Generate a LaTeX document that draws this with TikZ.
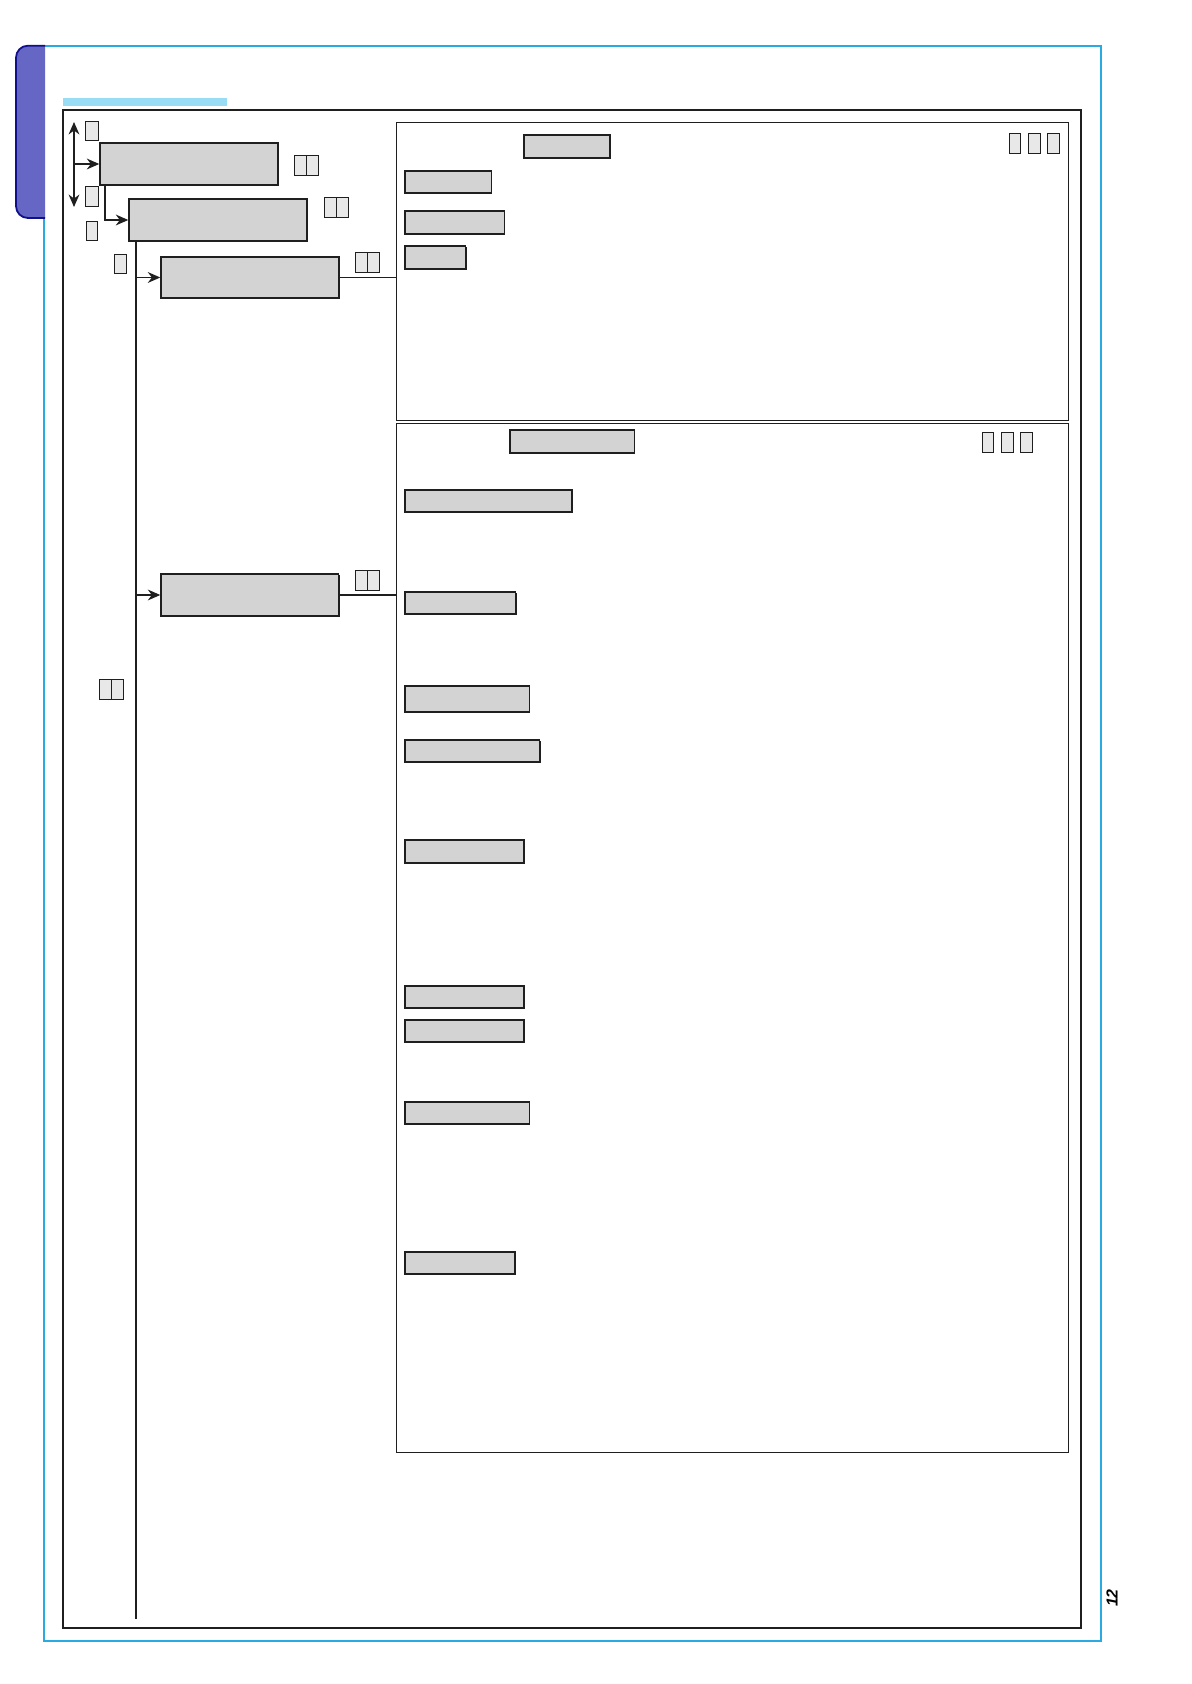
\documentclass[tikz,border=0pt]{standalone}
\usepackage{fontspec}
\setsansfont{Liberation Sans}
\usetikzlibrary{arrows.meta,calc,fit,shadows}

\definecolor{frameblue}{RGB}{41,170,225}
\definecolor{tabfill}{RGB}{102,102,196}
\definecolor{tabline}{RGB}{16,16,140}
\definecolor{barblue}{RGB}{153,221,245}
\definecolor{boxgray}{RGB}{211,211,211}
\definecolor{cellgray}{RGB}{232,232,232}

\tikzset{
    bigbox/.style={draw=black!88, line width=0.7pt, fill=boxgray, inner sep=0pt,
        drop shadow={shadow xshift=0.4pt, shadow yshift=-0.4pt, opacity=1, fill=black!88}},
    cellbox/.style={draw=black!88, line width=0.5pt, fill=cellgray, inner sep=0pt},
    panel/.style={draw=black!88, line width=0.5pt, inner sep=0pt},
    wire/.style={line width=0.85pt, black!88},
    arr/.style={wire, -{Stealth[length=2.2mm, width=1.9mm]}},
}

\begin{document}
\begin{tikzpicture}[x=0.17632mm, y=-0.17632mm]
% Variables: 1 := top left corner, 2 := bottom right corner, 3 := ID.
\def\gbox(#1)(#2)#3{\node[bigbox, fit={(#1) (#2)}] (#3) {};}
\def\cell(#1)(#2)#3{\node[cellbox, fit={(#1) (#2)}] (#3) {};}
% Variables: 1,2 := top left corner, 3 := ID.
\def\twin(#1,#2)#3{
    \node[cellbox, fit={(#1,#2) (#1+12.4,#2+20)}] (#3 L) {};
    \node[cellbox, fit={(#1+12.4,#2) (#1+24.8,#2+20)}] (#3 R) {};
}
\def\triple(#1,#2)#3{
    \foreach \i in {0,1,2}
        \node[cellbox, fit={(#1+\i*19.4,#2) (#1+\i*19.4+11.7,#2+20)}] (#3 \i) {};
}

\useasboundingbox (0,0) rectangle (1191,1684);

% page frame
\draw[frameblue, line width=1pt] (43.7,45.7) rectangle (1101,1641);
\filldraw[fill=tabfill, draw=tabline, line width=0.9pt, rounded corners=2.1mm]
    (45,45.7) -- (16,45.7) -- (16,218) -- (45,218);
\fill[barblue] (63,98) rectangle (227,106);
\draw[black!88, line width=1pt] (63.3,110) rectangle (1081,1628);

% panels
\node[panel, fit={(396.7,122.3) (1068.3,420.8)}] (upper) {};
\node[panel, fit={(396.7,423.3) (1068.3,1452.3)}] (lower) {};

% menu tree
\gbox(100,143)(278,185){level1}
\gbox(129,199)(307,241){level2}
\gbox(161,257)(339,298){entryA}
\gbox(161,574)(338.7,616){entryB}
\cell(85,122)(98,141){tagUp}
\cell(85,187)(98,207){tagDown}
\cell(86,222)(97,241){tagIn}
\cell(114,255)(126,274){tagA}
\twin(294,156){key1}
\twin(324,198){key2}
\twin(355,253){keyA}
\twin(355,570){keyB}
\twin(99,679){keyTrunk}

% upper panel
\gbox(524,135)(610,158){titleA}
\gbox(405,171)(491.6,193){itemA1}
\gbox(405,211)(504.5,234){itemA2}
\gbox(405,246)(465.7,269){itemA3}
\triple(1009,134){flagsA}

% lower panel
\gbox(510,430)(634.5,453){titleB}
\gbox(405,490)(572,512){itemB1}
\gbox(405,592)(515.7,614){itemB2}
\gbox(405,686)(529.3,712){itemB3}
\gbox(405,740)(539.7,762){itemB4}
\gbox(405,840)(524,863){itemB5}
\gbox(405,986)(524,1008){itemB6}
\gbox(405,1020)(524,1042){itemB7}
\gbox(405,1102)(529.3,1124){itemB8}
\gbox(405,1252)(515,1274){itemB9}
\triple(982,433){flagsB}

% connections
\coordinate (up) at (74,122);
\coordinate (down) at (74,207);
\draw[wire, {Stealth[length=2.2mm, width=1.9mm]}-{Stealth[length=2.2mm, width=1.9mm]}] (up) -- (down);
\draw[arr] (up |- level1.west) -- (level1.west);
\draw[arr] ($ (level1.south west) + (6,0) $) |- (level2.west);
\coordinate (trunk) at ($ (level2.south west) + (8,0) $);
\coordinate (trunk end) at ($ (trunk) + (0,1377) $);
\draw[wire] (trunk) -- (trunk end);
\draw[arr] (trunk |- entryA.west) -- (entryA.west);
\draw[arr] (trunk |- entryB.west) -- (entryB.west);
\draw[wire] (entryA.east) -- (entryA.east -| upper.west);
\draw[wire] (entryB.east) -- (entryB.east -| lower.west);

\node[rotate=90, inner sep=0pt, font=\sffamily\bfseries\itshape\fontsize{8pt}{8pt}\selectfont] (pageno) at (1112,1598) {12};
\end{tikzpicture}
\end{document}
